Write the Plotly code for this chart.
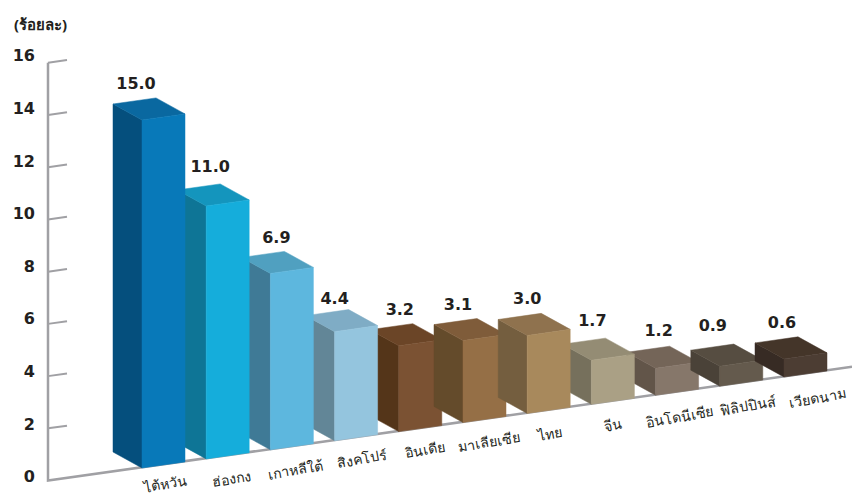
import plotly.graph_objects as go

# ---- data ----
categories = ["ไต้หวัน", "ฮ่องกง", "เกาหลีใต้", "สิงคโปร์", "อินเดีย", "มาเลียเซีย",
              "ไทย", "จีน", "อินโดนีเซีย", "ฟิลิปปินส์", "เวียดนาม"]
value_labels = [15.0, 11.0, 6.9, 4.4, 3.2, 3.1, 3.0, 1.7, 1.2, 0.9, 0.6]
# bar heights as the picture actually draws them (same unit)
drawn_levels = [15.0, 10.9, 7.6, 4.7, 3.7, 3.53, 3.36, 1.9, 1.16, 0.86, 0.78]
axis_ticks = [0, 2, 4, 6, 8, 10, 12, 14, 16]
unit_title = "(ร้อยละ)"

# ---- colours ----
front_colors = ["#0879B9", "#15ADDB", "#5DB7DE", "#94C5DE", "#7B5233", "#956F46",
                "#A8895C", "#AAA085", "#86776A", "#645A4D", "#4C3D33"]
side_colors = ["#054F7D", "#0E7596", "#3F7A96", "#628697", "#543519", "#644B2B",
               "#745E3F", "#76705C", "#625549", "#4A4238", "#372B24"]
top_colors = ["#0A68A0", "#1495BD", "#50A0C0", "#7FACC5", "#6B4527", "#7F5C3A",
              "#8F724E", "#948C74", "#746558", "#564D41", "#443529"]
axis_color = "#A0A0A4"
text_color = "#231F20"

# ---- oblique projection (slot units across, gauge units up) ----
W, H = 852, 495
SLOT = 64.2                 # px per bar slot
UNIT = 26.12                # px per gauge unit
X0 = 142.0                  # px of slot 0
Y0 = 480.6                  # px of gauge 0 at the wall
BAR_W = 43.0 / SLOT
DEPTH_X = -29.0 / SLOT
DEPTH_Y = 16.0 / UNIT
RISE = 0.1417 * SLOT / UNIT  # floor rise per slot
FLOOR0 = (Y0 - 468.0) / UNIT  # floor under slot 0
HEIGHT_SCALE = 23.2 / UNIT   # bars are foreshortened against the gauge
TICK_LABEL_SCALE = 26.3 / UNIT


def sx(px):
    return (px - X0) / SLOT


def sy(py):
    return (Y0 - py) / UNIT


def floor(u):
    return FLOOR0 + RISE * u


def poly(xs, ys, color):
    return go.Scatter(x=xs + xs[:1], y=ys + ys[:1], mode="lines", fill="toself",
                      fillcolor=color, line=dict(color=color, width=0.5),
                      hoverinfo="skip", showlegend=False)


def bar_traces(i):
    u = i
    h = drawn_levels[i] * HEIGHT_SCALE
    bl, br = floor(u), floor(u + BAR_W)
    tl, tr = bl + h, br + h
    return [
        poly([u + DEPTH_X, u, u, u + DEPTH_X],
             [bl + DEPTH_Y, bl, tl, tl + DEPTH_Y], side_colors[i]),
        poly([u, u + BAR_W, u + BAR_W + DEPTH_X, u + DEPTH_X],
             [tl, tr, tr + DEPTH_Y, tl + DEPTH_Y], top_colors[i]),
        poly([u, u + BAR_W, u + BAR_W, u], [bl, br, tr, tl], front_colors[i]),
    ]


fig = go.Figure()

# axis wall, floor and ticks
wall_u = sx(48)
end_u = sx(852)
fig.add_trace(go.Scatter(x=[wall_u, wall_u, end_u],
                         y=[axis_ticks[-1], 0, RISE * (end_u - wall_u)],
                         mode="lines", line=dict(color=axis_color, width=2.5),
                         hoverinfo="skip", showlegend=False))
tick_x, tick_y = [], []
for t in axis_ticks[1:]:
    tick_x += [wall_u, sx(67), None]
    tick_y += [t, t + 2.7 / UNIT, None]
fig.add_trace(go.Scatter(x=tick_x, y=tick_y, mode="lines",
                         line=dict(color=axis_color, width=2),
                         hoverinfo="skip", showlegend=False))
fig.add_trace(go.Scatter(x=[sx(35)] * len(axis_ticks),
                         y=[t * TICK_LABEL_SCALE + 2.5 / UNIT for t in axis_ticks],
                         mode="text", text=[str(t) for t in axis_ticks],
                         textposition="middle left",
                         textfont=dict(family="DejaVu Sans", size=16, color=text_color,
                                       weight="bold"),
                         hoverinfo="skip", showlegend=False))

# painter's order: nearer blocks overlap their neighbours
paint_order = [8, 7, 4, 3, 2, 1, 0, 5, 6, 9, 10]
for i in paint_order:
    for tr in bar_traces(i):
        fig.add_trace(tr)

# value labels
label_dx = [-6, 4, 6, 0, 1, -5, 0, 1, 3, -7, -2]
label_gap = [19, 22, 18, 16, 19, 19, 19, 22, 20, 23, 19]
lx, ly = [], []
for i, v in enumerate(drawn_levels):
    lx.append(i + label_dx[i] / SLOT)
    ly.append(floor(i) + v * HEIGHT_SCALE + DEPTH_Y + label_gap[i] / UNIT)
fig.add_trace(go.Scatter(x=lx, y=ly, mode="text",
                         text=[f"{v:.1f}" for v in value_labels],
                         textposition="middle center",
                         textfont=dict(family="DejaVu Sans", size=16, color=text_color,
                                       weight="bold"),
                         hoverinfo="skip", showlegend=False))

# category labels and unit title
cat_dx = [23, 25, 25, 27, 26, 26, 22, 22, 24, 28, 33]
cat_gap = [19, 23, 23, 22, 22, 23, 23, 23, 25, 23, 25]
annotations = []
for i, c in enumerate(categories):
    annotations.append(dict(x=i + cat_dx[i] / SLOT,
                            y=floor(i + cat_dx[i] / SLOT) - cat_gap[i] / UNIT,
                            text=c, showarrow=False, textangle=-10,
                            xanchor="center", yanchor="middle",
                            font=dict(family="Noto Sans", size=14, color=text_color)))
annotations.append(dict(x=sx(12), y=sy(24), text=f"<b>{unit_title}</b>", showarrow=False,
                        xanchor="left", yanchor="middle",
                        font=dict(family="Noto Sans", size=15, color=text_color)))

fig.update_layout(
    width=W, height=H, margin=dict(l=0, r=0, t=0, b=0),
    paper_bgcolor="white", plot_bgcolor="white", showlegend=False,
    xaxis=dict(range=[sx(0), sx(W)], visible=False, fixedrange=True),
    yaxis=dict(range=[sy(H), sy(0)], visible=False, fixedrange=True),
    annotations=annotations,
)

fig.write_html("out.html", post_script="document.body.style.margin='0';",
               config=dict(displayModeBar=False))
